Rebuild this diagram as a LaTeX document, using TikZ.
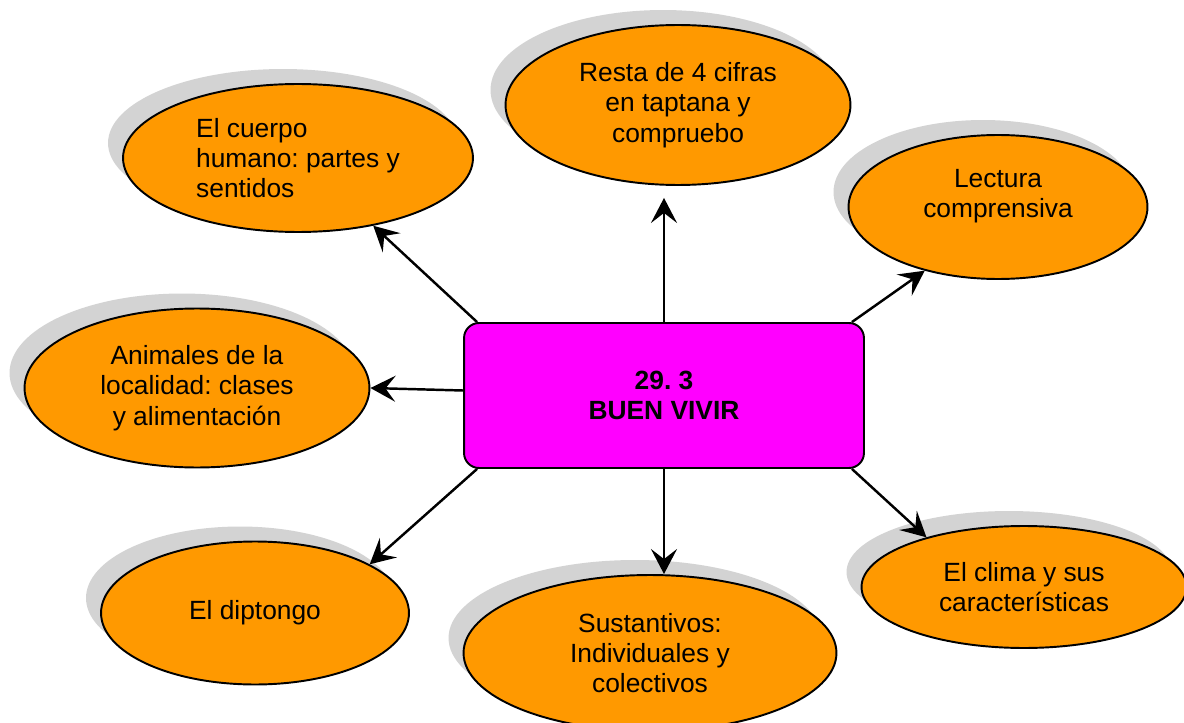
\documentclass[tikz,border=0pt]{standalone}
\usepackage{fontspec}
\setmainfont{Liberation Sans}
\usetikzlibrary{shapes.geometric,shadows,arrows.meta}
\definecolor{bubbleorange}{HTML}{FF9900}
\definecolor{boxmagenta}{HTML}{FF00FF}
\definecolor{shadowgray}{HTML}{D3D3D3}
\begin{document}
\frenchspacing
\begin{tikzpicture}[x=0.02cm,y=-0.02cm,
   bubble/.style={ellipse,draw=black,line width=1.1pt,fill=bubbleorange,inner sep=0pt,
      align=center,font=\fontsize{15}{17.3}\selectfont,
      general shadow={fill=shadowgray,shadow xshift=-0.3cm,shadow yshift=0.3cm}},
   topic/.style={rectangle,rounded corners=0.3cm,draw=black,line width=1.1pt,fill=boxmagenta,
      minimum width=8cm,minimum height=2.9cm,align=center,font=\fontsize{15}{17}\selectfont\bfseries},
   arr/.style={-{Stealth[length=0.5cm,width=0.52cm,inset=0.2cm]},line width=1.4pt,black}]
   \useasboundingbox (0,0) rectangle (1184,723);
   \node[topic] (box) at (664,395.5) {29. 3\\BUEN VIVIR};
   \node[bubble,minimum width=7cm,minimum height=2.96cm,align=left] (cuerpo) at (298,158) {El cuerpo\\humano: partes y\\sentidos};
   \node[bubble,minimum width=6.9cm,minimum height=3.2cm] (resta) at (678,105) {Resta de 4 cifras\\en taptana y\\compruebo};
   \node[bubble,minimum width=5.98cm,minimum height=2.88cm,
      label={[shift={(0,-11)},align=center,font=\fontsize{15}{17.3}\selectfont]center:{Lectura\\comprensiva}}] (lectura) at (998,207) {};
   \node[bubble,minimum width=6.9cm,minimum height=3.18cm] (animales) at (197,388) {Animales de la\\localidad: clases\\y alimentación};
   \node[bubble,minimum width=6.16cm,minimum height=2.86cm] (diptongo) at (255,613) {El diptongo};
   \node[bubble,minimum width=7.46cm,minimum height=3.12cm] (sustantivos) at (650,653) {Sustantivos:\\Individuales y\\colectivos};
   \node[bubble,minimum width=6.5cm,minimum height=2.44cm] (clima) at (1024,587) {El clima y sus\\características};
   \draw[arr] ([xshift=0.28cm]box.north west) -- (cuerpo.-42);
   \draw[arr,shorten >=0.24cm] (box.north) -- (box.north |- resta.south);
   \draw[arr] ([xshift=-0.26cm]box.north east) -- (lectura.-139);
   \draw[arr] ([yshift=0.1cm]box.west) -- (animales.east);
   \draw[arr] ([xshift=0.28cm]box.south west) -- (diptongo.23);
   \draw[arr] (box.south) -- (box.south |- sustantivos.north);
   \draw[arr] ([xshift=-0.26cm]box.south east) -- (clima.153);
\end{tikzpicture}
\end{document}
